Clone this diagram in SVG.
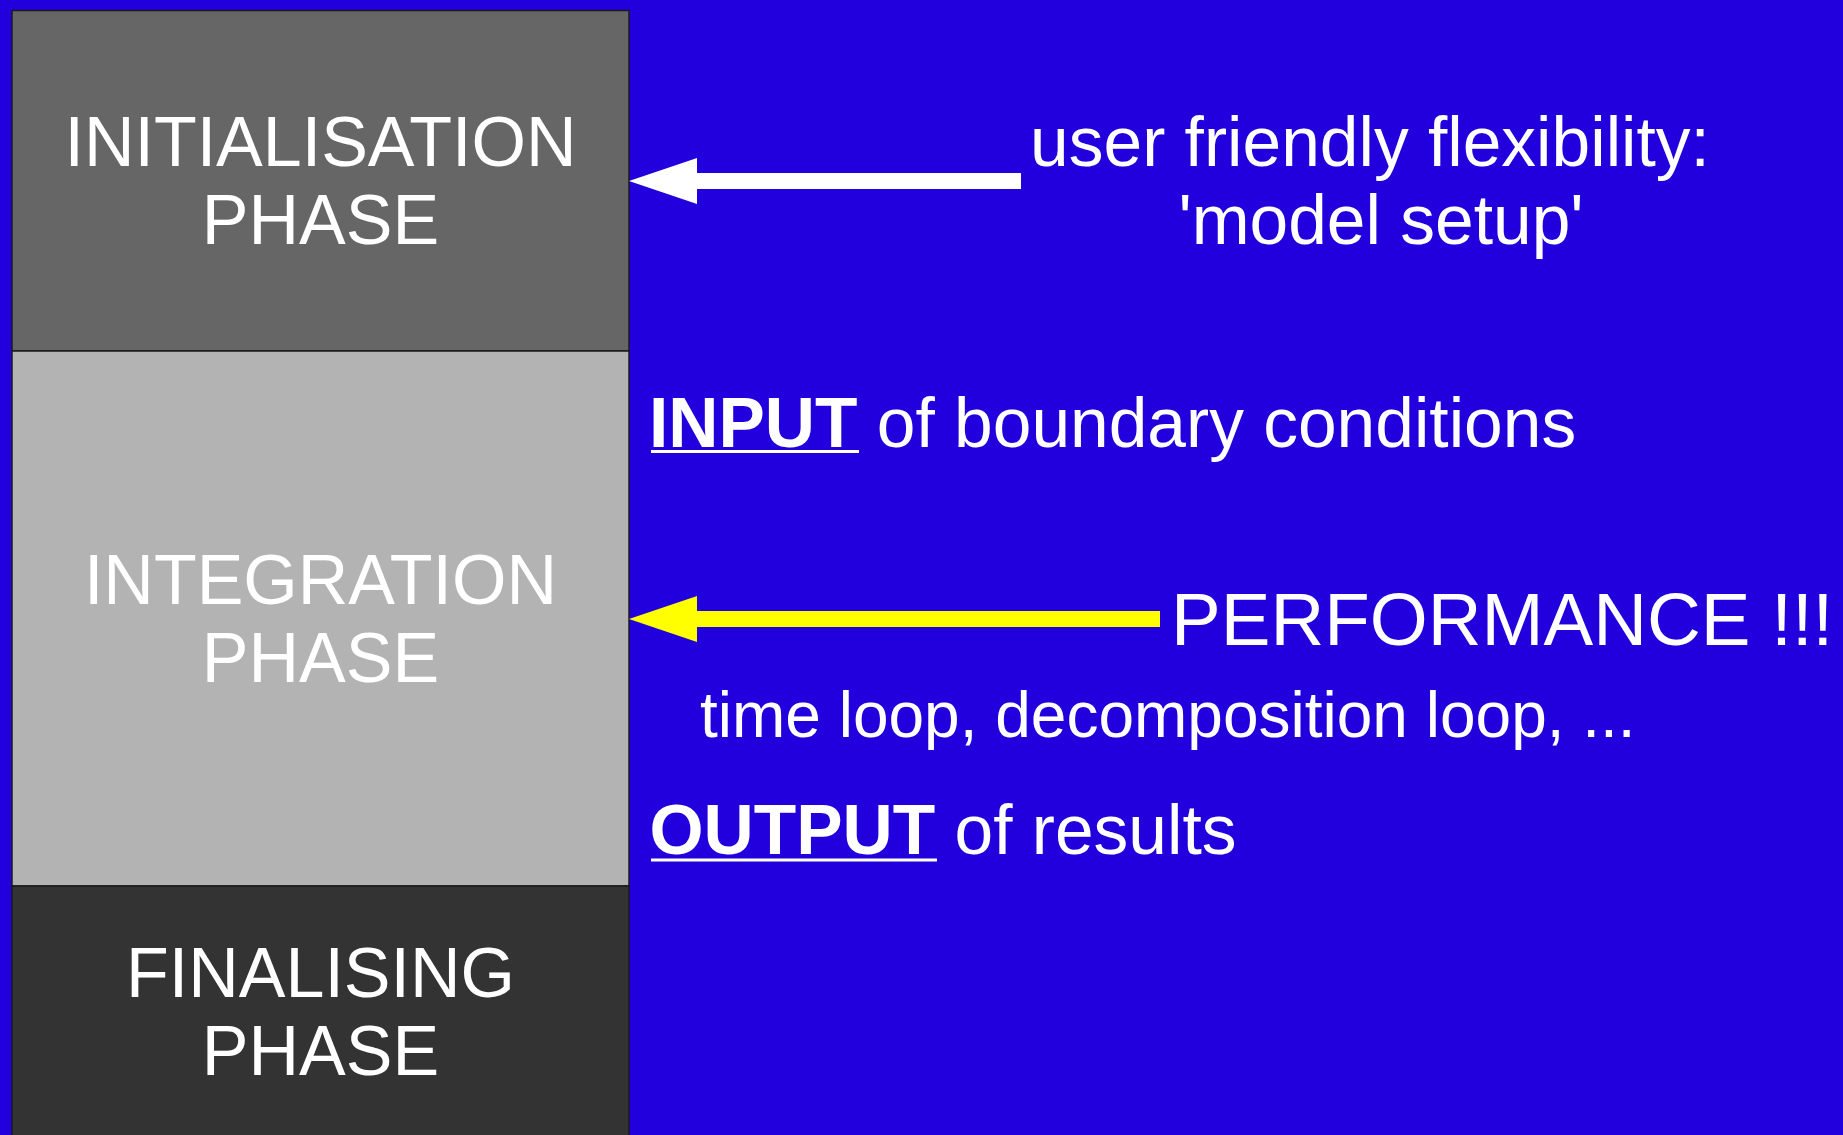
<svg xmlns="http://www.w3.org/2000/svg" width="1843" height="1135" viewBox="0 0 1843 1135">
  <style>
    text { font-family: "Liberation Sans", Arial, sans-serif; fill: #ffffff; }
    .phase { font-size: 70px; text-anchor: middle; }
    .box { stroke: #1a1a1a; stroke-width: 1.5; }
    .big { font-size: 69.5px; }
    .bold { font-weight: bold; }
    .ul { fill: #ffffff; }
  </style>
  <rect x="0" y="0" width="1843" height="1135" fill="#2200dd"/>

  <g id="init-phase">
    <rect class="box" x="12" y="10.5" width="617" height="340.5" fill="#666666"/>
    <text class="phase" x="320.5" y="166">INITIALISATION</text>
    <text class="phase" x="320.5" y="243.5">PHASE</text>
  </g>
  <g id="integration-phase">
    <rect class="box" x="12" y="351" width="617" height="535" fill="#b3b3b3"/>
    <text class="phase" x="320.5" y="604">INTEGRATION</text>
    <text class="phase" x="320.5" y="682">PHASE</text>
  </g>
  <g id="finalising-phase">
    <rect class="box" x="12" y="886" width="617" height="260" fill="#333333"/>
    <text class="phase" x="320.5" y="997">FINALISING</text>
    <text class="phase" x="320.5" y="1075">PHASE</text>
  </g>

  <g id="flexibility-label">
    <text class="big" x="1370" y="166" text-anchor="middle">user friendly flexibility:</text>
    <text class="big" x="1381" y="244" text-anchor="middle">'model setup'</text>
  </g>
  <g id="performance-label">
    <text x="1171" y="645" font-size="74.5">PERFORMANCE !!!</text>
  </g>
  <g id="input-label">
    <text class="big" x="649" y="447"><tspan class="bold">INPUT</tspan> of boundary conditions</text>
    <rect class="ul" x="651" y="450" width="208" height="3"/>
  </g>
  <g id="loop-label">
    <text x="700" y="737" font-size="64">time loop, decomposition loop, ...</text>
  </g>
  <g id="output-label">
    <text class="big" x="649.5" y="854"><tspan class="bold">OUTPUT</tspan> of results</text>
    <rect class="ul" x="651" y="858.5" width="286" height="3"/>
  </g>

  <g id="connectors">
    <path id="arrow-flexibility" fill="#ffffff" d="M629,181 L697,158 L697,173 L1021,173 L1021,189 L697,189 L697,204 Z"/>
    <path id="arrow-performance" fill="#ffff00" d="M629,619 L697,596 L697,611 L1160,611 L1160,627 L697,627 L697,642 Z"/>
  </g>
</svg>
